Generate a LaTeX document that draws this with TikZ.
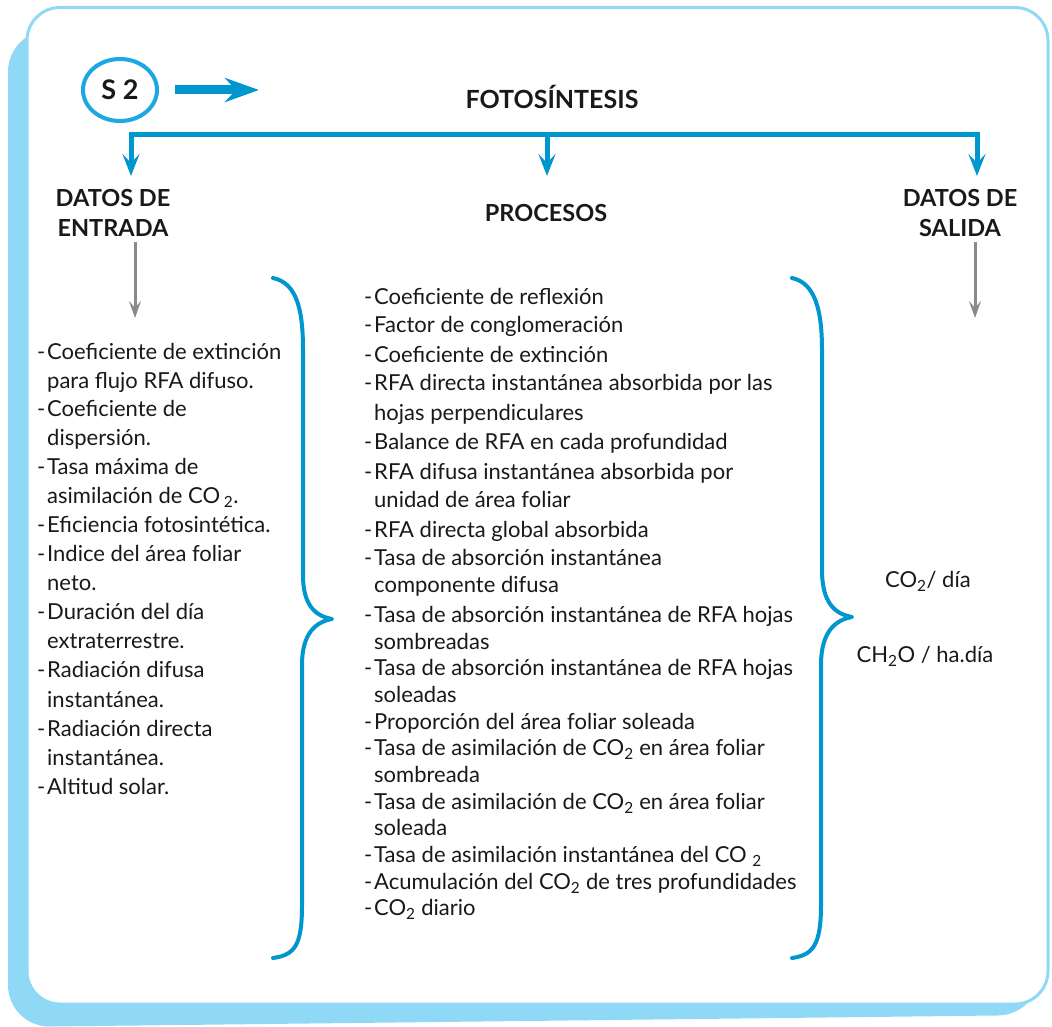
\documentclass[tikz,border=0pt]{standalone}
\usepackage{fontspec}
\setmainfont{Lato}
\usetikzlibrary{arrows.meta,shapes.geometric}
\definecolor{frameblue}{RGB}{143,217,247}
\definecolor{lineblue}{RGB}{0,150,206}
\definecolor{ellblue}{RGB}{28,168,227}
\definecolor{arrgray}{RGB}{138,138,140}
\definecolor{txt}{RGB}{25,25,25}
\newcommand\dsh{\makebox[10pt][l]{-}}
\begin{document}
\begin{tikzpicture}[x=1pt,y=-1pt,
  body/.style={anchor=base west, inner sep=0pt, font=\fontsize{22}{26}\selectfont, text=txt},
  outtxt/.style={anchor=base, inner sep=0pt, font=\fontsize{22}{26}\selectfont, text=txt},
  head/.style={align=center, inner sep=0pt, font=\fontsize{23.5}{30}\selectfont\bfseries, text=txt},
  tree/.style={draw=lineblue, line width=5pt},
  treetip/.style={-{Stealth[length=22pt,width=17pt,inset=9pt]}},
  grayarrow/.style={draw=arrgray, line width=3pt, -{Stealth[length=17pt,width=12pt,inset=7pt]}},
  bracestyle/.style={draw=lineblue, line width=4pt, line cap=round, line join=round},
]
\useasboundingbox (0,0) rectangle (1052,1027);
% frame
\fill[frameblue, rounded corners=42] (8,30) -- (8,1027) -- (1040,1015) -- (1045,30) -- cycle;
\draw[frameblue, line width=3pt, fill=white, rounded corners=33] (27,7.5) rectangle (1048,1004);

% S2 and title
\node[draw=ellblue, line width=4pt, ellipse, minimum width=74pt, minimum height=62pt, inner sep=0pt,
      font=\fontsize{27}{30}\selectfont\bfseries, text=txt] (s2) at (120,90) {S 2};
\coordinate (s2arr) at (259,90);
\draw[draw=lineblue, line width=9pt, -{Stealth[length=34pt,width=24pt,inset=11pt]}] ([xshift=16pt]s2.east) -- (s2arr);
\node[head, font=\fontsize{25}{30}\selectfont\bfseries] (title) at (552,97) {FOTOSÍNTESIS};

% tree
\coordinate (tL) at (131,135);
\coordinate (tM) at (547,135);
\coordinate (tR) at (977,135);
\coordinate (aL) at (131,176);
\coordinate (aM) at (547,176);
\coordinate (aR) at (977,176);
\draw[tree, {Stealth[length=22pt,width=17pt,inset=9pt]}-{Stealth[length=22pt,width=17pt,inset=9pt]}] (aL) -- (tL) -- (tR) -- (aR);
\draw[tree, treetip] (tM) -- (aM);

% headings
\node[head] (hin) at (113,213) {DATOS DE\\ENTRADA};
\node[head] (hproc) at (546,213) {PROCESOS};
\node[head] (hout) at (960,213) {DATOS DE\\SALIDA};

% gray arrows
\coordinate (gL1) at (135,242);
\coordinate (gL2) at (135,318);
\coordinate (gR1) at (975,242);
\coordinate (gR2) at (975,318);
\draw[grayarrow] (gL1) -- (gL2);
\draw[grayarrow] (gR1) -- (gR2);

% braces
\draw[bracestyle] (273,278) .. controls (297,283) and (303,310) .. (303,350) -- (303,575)
  .. controls (303,605) and (315,616) .. (332,619) .. controls (315,622) and (302,634) .. (302,665)
  -- (302,905) .. controls (302,945) and (295,955) .. (273,958);
\draw[bracestyle] (792,278) .. controls (815,283) and (822,310) .. (822,350) -- (822,570)
  .. controls (822,603) and (835,614) .. (852,617) .. controls (835,620) and (821,632) .. (821,665)
  -- (821,905) .. controls (821,945) and (813,955) .. (792,958);

% left list
\node[body] (l1) at (37,359) {\dsh Coeficiente de extinción};
\node[body] (l2) at (47,388) {para flujo RFA difuso.};
\node[body] (l3) at (37,416) {\dsh Coeficiente de};
\node[body] (l4) at (47,445) {dispersión.};
\node[body] (l5) at (37,474) {\dsh Tasa máxima de};
\node[body] (l6) at (47,503) {asimilación de CO\,\textsubscript{2}.};
\node[body] (l7) at (37,532) {\dsh Eficiencia fotosintética.};
\node[body] (l8) at (37,561) {\dsh Indice del área foliar};
\node[body] (l9) at (47,590) {neto.};
\node[body] (l10) at (37,619) {\dsh Duración del día};
\node[body] (l11) at (47,648) {extraterrestre.};
\node[body] (l12) at (37,677) {\dsh Radiación difusa};
\node[body] (l13) at (47,707) {instantánea.};
\node[body] (l14) at (37,736) {\dsh Radiación directa};
\node[body] (l15) at (47,765) {instantánea.};
\node[body] (l16) at (37,794) {\dsh Altitud solar.};

% middle list
\node[body] (m1) at (364,304) {\dsh Coeficiente de reflexión};
\node[body] (m2) at (364,332) {\dsh Factor de conglomeración};
\node[body] (m3) at (364,362) {\dsh Coeficiente de extinción};
\node[body] (m4) at (364,390) {\dsh RFA directa instantánea absorbida por las};
\node[body] (m5) at (374,420) {hojas perpendiculares};
\node[body] (m6) at (364,449) {\dsh Balance de RFA en cada profundidad};
\node[body] (m7) at (364,479) {\dsh RFA difusa instantánea absorbida por};
\node[body] (m8) at (374,507) {unidad de área foliar};
\node[body] (m9) at (364,537) {\dsh RFA directa global absorbida};
\node[body] (m10) at (364,565) {\dsh Tasa de absorción instantánea};
\node[body] (m11) at (374,592) {componente difusa};
\node[body] (m12) at (364,622) {\dsh Tasa de absorción instantánea de RFA hojas};
\node[body] (m13) at (374,649) {sombreadas};
\node[body] (m14) at (364,675) {\dsh Tasa de absorción instantánea de RFA hojas};
\node[body] (m15) at (374,702) {soleadas};
\node[body] (m16) at (364,729) {\dsh Proporción del área foliar soleada};
\node[body] (m17) at (364,755) {\dsh Tasa de asimilación de CO\textsubscript{2} en área foliar};
\node[body] (m18) at (374,782) {sombreada};
\node[body] (m19) at (364,809) {\dsh Tasa de asimilación de CO\textsubscript{2} en área foliar};
\node[body] (m20) at (374,835) {soleada};
\node[body] (m21) at (364,862) {\dsh Tasa de asimilación instantánea del CO \textsubscript{2}};
\node[body] (m22) at (364,889) {\dsh Acumulación del CO\textsubscript{2} de tres profundidades};
\node[body] (m23) at (364,915) {\dsh CO\textsubscript{2} diario};

% outputs
\node[outtxt] (o1) at (928,587) {CO\textsubscript{2}/ día};
\node[outtxt] (o2) at (925,662) {CH\textsubscript{2}O / ha.día};
\end{tikzpicture}
\end{document}
